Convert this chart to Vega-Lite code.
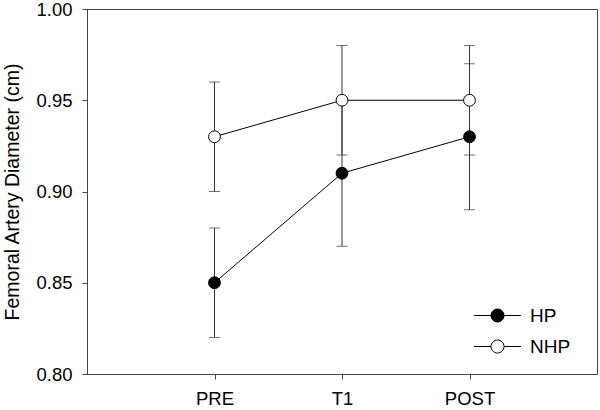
{
  "$schema": "https://vega.github.io/schema/vega-lite/v6.json",
  "width": 510,
  "height": 365,
  "autosize": {"type": "none"},
  "padding": {"left": 87, "top": 9, "right": 3, "bottom": 36},
  "background": "white",
  "config": {
    "font": "Liberation Sans",
    "view": {"stroke": "#444", "strokeWidth": 1},
    "axis": {
      "domainColor": "#444",
      "tickColor": "#444",
      "labelColor": "black",
      "titleColor": "black",
      "labelFont": "Liberation Sans",
      "titleFont": "Liberation Sans",
      "labelFontSize": 18.5,
      "titleFontSize": 19.5,
      "titleFontWeight": "normal",
      "grid": false,
      "tickSize": 5
    }
  },
  "data": {
    "values": [
      {"time": "PRE", "group": "HP", "mean": 0.85, "lo": 0.82, "hi": 0.88},
      {"time": "T1", "group": "HP", "mean": 0.91, "lo": 0.87, "hi": 0.95},
      {"time": "POST", "group": "HP", "mean": 0.93, "lo": 0.89, "hi": 0.97},
      {"time": "PRE", "group": "NHP", "mean": 0.93, "lo": 0.90, "hi": 0.96},
      {"time": "T1", "group": "NHP", "mean": 0.95, "lo": 0.92, "hi": 0.98},
      {"time": "POST", "group": "NHP", "mean": 0.95, "lo": 0.92, "hi": 0.98}
    ]
  },
  "encoding": {
    "x": {
      "field": "time",
      "type": "ordinal",
      "sort": ["PRE", "T1", "POST"],
      "scale": {"type": "point", "padding": 1},
      "axis": {"title": null, "labelAngle": 0, "labelPadding": 10}
    }
  },
  "layer": [
    {
      "mark": {"type": "rule", "color": "#333", "strokeWidth": 1},
      "encoding": {
        "y": {"field": "lo", "type": "quantitative"},
        "y2": {"field": "hi"}
      }
    },
    {
      "mark": {"type": "tick", "color": "#333", "size": 11, "thickness": 1, "orient": "horizontal"},
      "encoding": {"y": {"field": "lo", "type": "quantitative"}}
    },
    {
      "mark": {"type": "tick", "color": "#333", "size": 11, "thickness": 1, "orient": "horizontal"},
      "encoding": {"y": {"field": "hi", "type": "quantitative"}}
    },
    {
      "mark": {"type": "line", "color": "black", "strokeWidth": 1},
      "encoding": {
        "y": {"field": "mean", "type": "quantitative"},
        "detail": {"field": "group"}
      }
    },
    {
      "mark": {"type": "point", "filled": true, "stroke": "black", "strokeWidth": 1, "size": 140, "opacity": 1},
      "encoding": {
        "y": {
          "field": "mean",
          "type": "quantitative",
          "scale": {"domain": [0.8, 1.0], "nice": false, "zero": false},
          "axis": {
            "title": "Femoral Artery Diameter (cm)",
            "values": [0.8, 0.85, 0.9, 0.95, 1.0],
            "format": ".2f",
            "labelPadding": 10,
            "titlePadding": 13
          }
        },
        "fill": {
          "field": "group",
          "type": "nominal",
          "scale": {"domain": ["HP", "NHP"], "range": ["black", "white"]},
          "legend": {
            "title": null,
            "orient": "none",
            "legendX": 401,
            "legendY": 297,
            "symbolType": "M-3.6,0L-1,0M1,0L3.6,0M-1,0A1,1 0 1,1 1,0A1,1 0 1,1 -1,0Z",
            "symbolSize": 169,
            "symbolStrokeColor": "black",
            "symbolStrokeWidth": 1,
            "symbolOpacity": 1,
            "labelFontSize": 19,
            "labelFont": "Liberation Sans",
            "labelColor": "black",
            "labelOffset": 23,
            "rowPadding": 11,
            "padding": 0
          }
        }
      }
    }
  ]
}
